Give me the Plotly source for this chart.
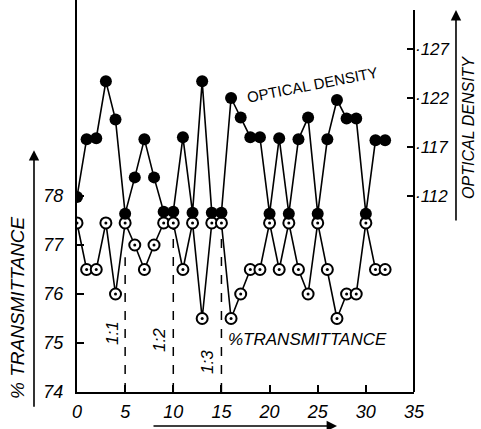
import plotly.graph_objects as go

# ---- data ----
x_vals = list(range(33))
transmittance = [77.45, 76.5, 76.5, 77.45, 76.0, 77.45, 77.0, 76.5, 77.0, 77.45,
                 77.45, 76.5, 77.45, 75.5, 77.45, 77.45, 75.5, 76.0, 76.5, 76.5,
                 77.45, 76.5, 77.45, 76.5, 76.0, 77.45, 76.5, 75.5, 76.0, 76.0,
                 77.45, 76.5, 76.5]
optical_density = [111.9, 117.8, 117.9, 123.7, 119.8, 110.2, 113.9, 117.8, 113.9, 110.4,
                   110.4, 118.0, 110.3, 123.7, 110.3, 110.3, 122.0, 120.0, 118.0, 118.0,
                   110.2, 117.9, 110.2, 117.8, 120.0, 110.2, 117.8, 121.8, 119.9, 119.9,
                   110.2, 117.7, 117.7]

x_ticks = [0, 5, 10, 15, 20, 25, 30, 35]
t_ticks = [74, 75, 76, 77, 78]
od_ticks = [112, 117, 122, 127]
od_ticktext = ["·112", "·117", "·122", "·127"]

ratio_x = [5, 10, 15]
ratio_top = [76.75, 77.35, 77.35]
ratio_labels = ["1:1", "1:2", "1:3"]

FONT = "Liberation Sans, Arial, sans-serif"

fig = go.Figure()

# transmittance line + open dotted circles
fig.add_trace(go.Scatter(
    x=x_vals, y=transmittance, mode="lines+markers",
    line=dict(color="black", width=1.6),
    marker=dict(symbol="circle", size=11, color="white",
                line=dict(color="black", width=2)),
    yaxis="y", showlegend=False, hoverinfo="skip"))
fig.add_trace(go.Scatter(
    x=x_vals, y=transmittance, mode="markers",
    marker=dict(symbol="circle", size=3, color="black"),
    yaxis="y", showlegend=False, hoverinfo="skip"))

# optical density line + filled circles
fig.add_trace(go.Scatter(
    x=x_vals, y=optical_density, mode="lines+markers",
    line=dict(color="black", width=1.6),
    marker=dict(symbol="circle", size=12, color="black"),
    yaxis="y2", showlegend=False, hoverinfo="skip"))

tickfont = dict(family=FONT, size=18, color="black", style="italic")

fig.update_layout(
    width=481, height=429,
    margin=dict(l=77, r=67, t=0, b=37),
    paper_bgcolor="white", plot_bgcolor="white",
    xaxis=dict(range=[0, 35], tickvals=x_ticks, ticks="inside", ticklen=7,
               tickwidth=1.5, tickcolor="black", showgrid=False, zeroline=False,
               showline=True, linecolor="black", linewidth=2,
               tickfont=tickfont, ticklabelstandoff=2),
    yaxis=dict(range=[74, 82], tickvals=t_ticks, ticks="inside", ticklen=7,
               tickwidth=1.5, tickcolor="black", showgrid=False, zeroline=False,
               showline=True, linecolor="black", linewidth=2,
               tickfont=tickfont, ticklabelstandoff=8),
    yaxis2=dict(range=[92, 132], overlaying="y", side="right",
                tickvals=od_ticks, ticktext=od_ticktext, ticks="inside",
                ticklen=7, tickwidth=1.5, tickcolor="black", showgrid=False,
                zeroline=False, showline=False,
                tickfont=dict(family=FONT, size=17, color="black", style="italic"),
                ticklabelstandoff=0),
)

shapes = []
# right axis line (starts a little below the top)
shapes.append(dict(type="line", xref="paper", yref="paper", x0=1, x1=1,
                   y0=0, y1=0.9745, line=dict(color="black", width=2)))
for xv, yt in zip(ratio_x, ratio_top):
    shapes.append(dict(type="line", xref="x", yref="y", x0=xv, x1=xv,
                       y0=74, y1=yt, line=dict(color="black", width=1.5, dash="dash"),
                       layer="below"))
fig.update_layout(shapes=shapes)

C = dict(xanchor="center", yanchor="middle", showarrow=False,
         xref="paper", yref="paper")
annots = []
lab_pos = [(0.1039, 0.1505), (0.2463, 0.1327), (0.3858, 0.0765)]
for lab, (px, py) in zip(ratio_labels, lab_pos):
    annots.append(dict(text=lab, x=px, y=py, textangle=-90,
                       font=dict(family=FONT, size=17, color="black", style="italic"), **C))
annots.append(dict(text="OPTICAL DENSITY", x=0.70, y=0.785, textangle=-11,
                   font=dict(family=FONT, size=15, color="black"), **C))
annots.append(dict(text="%TRANSMITTANCE", x=0.6825, y=0.1327,
                   font=dict(family=FONT, size=17, color="black", style="italic"), **C))
annots.append(dict(text="% TRANSMITTANCE", x=-0.175, y=0.2143, textangle=-90,
                   font=dict(family=FONT, size=19, color="black", style="italic"), **C))
annots.append(dict(text="OPTICAL DENSITY", x=1.160, y=0.676, textangle=-90,
                   font=dict(family=FONT, size=16, color="black", style="italic"), **C))
# arrows
A = dict(text="", xref="paper", yref="paper", showarrow=True, arrowhead=2,
         arrowsize=1.3, arrowwidth=1.6, arrowcolor="black")
annots.append(dict(x=-0.1276, y=0.617, ax=0, ay=258, **A))
annots.append(dict(x=1.1246, y=0.9745, ax=0, ay=212, **A))
annots.append(dict(x=0.7715, y=-0.0867, ax=-185, ay=0, **A))
fig.update_layout(annotations=annots)

fig.write_html("out.html", config={"displayModeBar": False},
               post_script="document.body.style.margin='0';document.body.style.overflow='hidden';")
